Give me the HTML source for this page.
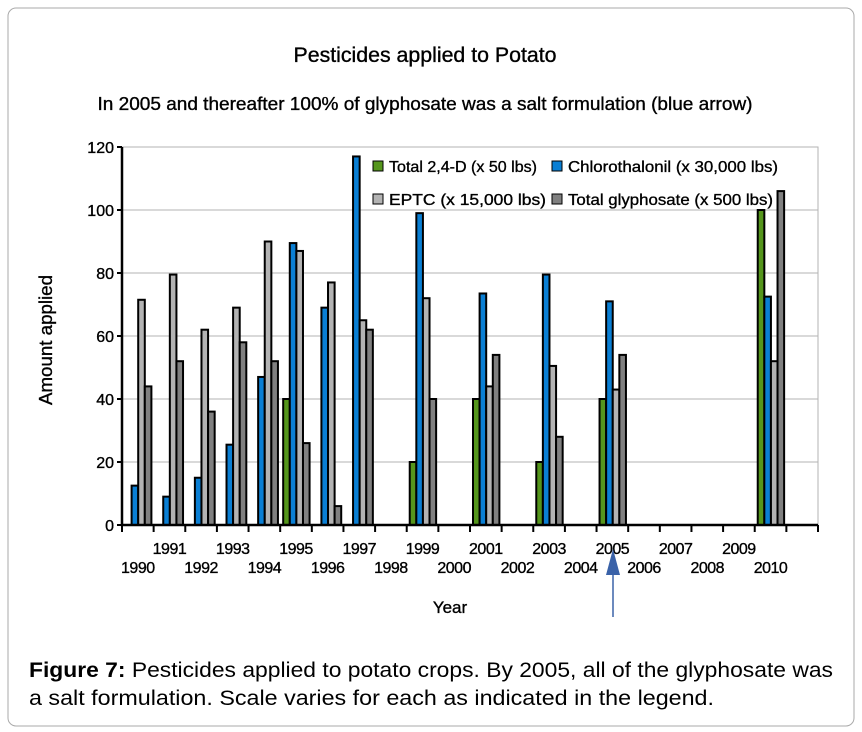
<!DOCTYPE html>
<html><head><meta charset="utf-8"><style>
body{margin:0;background:#fff;font-family:"Liberation Sans",sans-serif;}
svg{display:block}
.h text{stroke:#000;stroke-width:0.35}
</style></head><body>
<svg width="862" height="732" id="c">
<rect x="8" y="8" width="846" height="718" rx="8" fill="#fff" stroke="#aaa"/>
<g class="h">
<text x="425" y="62" font-size="21" text-anchor="middle" textLength="263" lengthAdjust="spacingAndGlyphs">Pesticides applied to Potato</text>
<text x="425" y="110" font-size="18" text-anchor="middle" textLength="655" lengthAdjust="spacingAndGlyphs">In 2005 and thereafter 100% of glyphosate was a salt formulation (blue arrow)</text>
<text transform="translate(52,340) rotate(-90)" font-size="18" text-anchor="middle" textLength="130" lengthAdjust="spacingAndGlyphs">Amount applied</text>
<text x="450" y="613" font-size="17" text-anchor="middle">Year</text>
</g>
<text x="29" y="677" font-size="21" textLength="804" lengthAdjust="spacingAndGlyphs"><tspan font-weight="bold">Figure 7:</tspan> Pesticides applied to potato crops. By 2005, all of the glyphosate was</text>
<text x="29" y="705" font-size="21" textLength="685" lengthAdjust="spacingAndGlyphs">a salt formulation. Scale varies for each as indicated in the legend.</text>
<g id="plot" class="h"></g>
</svg>
<script>
const years=[1990,1991,1992,1993,1994,1995,1996,1997,1998,1999,2000,2001,2002,2003,2004,2005,2006,2007,2008,2009,2010];
const d24=[0,0,0,0,0,40,0,0,0,20,0,40,0,20,0,40,0,0,0,0,100];
const chloro=[12.5,9,15,25.5,47,89.5,69,117,0,99,0,73.5,0,79.5,0,71,0,0,0,0,72.5];
const eptc=[71.5,79.5,62,69,90,87,77,65,0,72,0,44,0,50.5,0,43,0,0,0,0,52];
const glyph=[44,52,36,58,52,26,6,62,0,40,0,54,0,28,0,54,0,0,0,0,106];
const yTicks=[0,20,40,60,80,100,120];
const seriesNames=["Total 2,4-D (x 50 lbs)","Chlorothalonil (x 30,000 lbs)","EPTC (x 15,000 lbs)","Total glyphosate (x 500 lbs)"];
const L=122,R=818,T=147,B=525,slots=22,sw=(R-L)/slots;
const y=v=>B-(v/120)*(B-T);
const x=i=>L+i*sw;
const ns="http://www.w3.org/2000/svg";
const g=document.getElementById('plot');
function mk(t,a){const e=document.createElementNS(ns,t);for(const k in a)e.setAttribute(k,a[k]);g.appendChild(e);return e;}
let fr=mk('path',{d:`M${L},${T}H${R}V${B}`,fill:'none',stroke:'#b3b3b3'});


yTicks.forEach(t=>{
 if(t>0){const gl=mk('line',{x1:L,x2:R,y1:y(t),y2:y(t),stroke:'#b3b3b3'});
 
 }
 const tk=mk('line',{x1:L-5,x2:L,y1:y(t),y2:y(t),stroke:'#000','stroke-width':2});
 
 
 const tl=mk('text',{x:L-8,y:y(t)+6,'font-size':16,'text-anchor':'end'});tl.textContent=t;
 
 
});
const cols=['#55961c','#0a7fd4','#b3b3b3','#808080'];
const series=[d24,chloro,eptc,glyph];
const bw=6.6;
years.forEach((yr,i)=>{
 series.forEach((s,j)=>{
  const v=s[i]; if(!v) return;
  const b=mk('rect',{x:x(i)+3+j*bw,y:y(v),width:bw,height:B-y(v),fill:cols[j],stroke:'#000','stroke-width':2});
  
  
 });
 const lb=mk('text',{x:x(i)+sw/2,y:i%2?554:573,'font-size':16,'text-anchor':'middle','letter-spacing':'-0.5'});lb.textContent=yr;
 
 
});
for(let i=0;i<=slots;i++){const tk=mk('line',{x1:x(i),x2:x(i),y1:B,y2:B+7,stroke:'#000','stroke-width':2});
 
 }
const ax=mk('path',{d:`M${L},${T}V${B}H${R}`,fill:'none',stroke:'#000','stroke-width':2.5});


const lp=[[373,166],[552,166],[373,199],[552,199]];
const lw=[148,210,157,205];
seriesNames.forEach((n,j)=>{
 const r=mk('rect',{x:lp[j][0],y:lp[j][1]-5,width:10,height:10,fill:cols[j],stroke:'#000'});
 
 
 const t=mk('text',{x:lp[j][0]+16,y:lp[j][1]+6,'font-size':16,textLength:lw[j],lengthAdjust:'spacingAndGlyphs'});t.textContent=n;
 
 
});
const al=mk('line',{x1:613,x2:613,y1:560,y2:617,stroke:'#3a62a8','stroke-width':1.5});


const ah=mk('polygon',{points:'613,549 606,575 620,575',fill:'#3a62a8'});


</script>
</body></html>
